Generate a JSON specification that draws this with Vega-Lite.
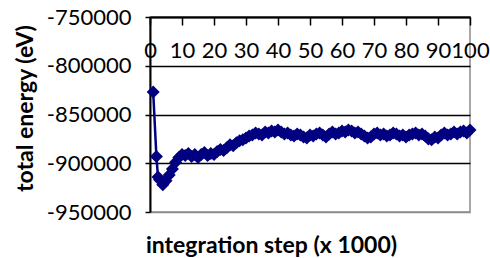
{
  "$schema": "https://vega.github.io/schema/vega-lite/v6.json",
  "width": 320,
  "height": 195,
  "autosize": "none",
  "padding": {"left": 150, "top": 17, "right": 20, "bottom": 46},
  "background": "white",
  "config": {
    "view": {"stroke": "#8c8c8c", "strokeWidth": 1.5},
    "axis": {
      "domainColor": "black",
      "domainWidth": 2,
      "tickColor": "black",
      "tickWidth": 1.5,
      "labelColor": "black",
      "labelFont": "Lato",
      "labelFontSize": 22,
      "titleFont": "Lato",
      "titleFontSize": 23,
      "titleFontWeight": "bold",
      "titleColor": "black"
    }
  },
  "data": {
    "values": [
      {"step": 1, "energy": -827000},
      {"step": 2, "energy": -893000},
      {"step": 2.5, "energy": -914000},
      {"step": 3, "energy": -917000},
      {"step": 4, "energy": -922000},
      {"step": 5, "energy": -918000},
      {"step": 6, "energy": -912000},
      {"step": 7, "energy": -906000},
      {"step": 8, "energy": -899000},
      {"step": 9, "energy": -894000},
      {"step": 10, "energy": -891000},
      {"step": 11, "energy": -892000},
      {"step": 12, "energy": -890000},
      {"step": 13, "energy": -893000},
      {"step": 14, "energy": -891000},
      {"step": 15, "energy": -894000},
      {"step": 16, "energy": -891000},
      {"step": 17, "energy": -889000},
      {"step": 18, "energy": -892000},
      {"step": 19, "energy": -890000},
      {"step": 20, "energy": -891000},
      {"step": 21, "energy": -888000},
      {"step": 22, "energy": -886000},
      {"step": 23, "energy": -887000},
      {"step": 24, "energy": -884000},
      {"step": 25, "energy": -881000},
      {"step": 26, "energy": -882000},
      {"step": 27, "energy": -879000},
      {"step": 28, "energy": -877000},
      {"step": 29, "energy": -876000},
      {"step": 30, "energy": -874000},
      {"step": 31, "energy": -872000},
      {"step": 32, "energy": -871000},
      {"step": 33, "energy": -869000},
      {"step": 34, "energy": -870000},
      {"step": 35, "energy": -871000},
      {"step": 36, "energy": -868000},
      {"step": 37, "energy": -869000},
      {"step": 38, "energy": -867000},
      {"step": 39, "energy": -868000},
      {"step": 40, "energy": -866000},
      {"step": 41, "energy": -868000},
      {"step": 42, "energy": -870000},
      {"step": 43, "energy": -869000},
      {"step": 44, "energy": -871000},
      {"step": 45, "energy": -872000},
      {"step": 46, "energy": -870000},
      {"step": 47, "energy": -871000},
      {"step": 48, "energy": -873000},
      {"step": 49, "energy": -874000},
      {"step": 50, "energy": -871000},
      {"step": 51, "energy": -872000},
      {"step": 52, "energy": -870000},
      {"step": 53, "energy": -869000},
      {"step": 54, "energy": -871000},
      {"step": 55, "energy": -873000},
      {"step": 56, "energy": -870000},
      {"step": 57, "energy": -868000},
      {"step": 58, "energy": -870000},
      {"step": 59, "energy": -869000},
      {"step": 60, "energy": -867000},
      {"step": 61, "energy": -868000},
      {"step": 62, "energy": -866000},
      {"step": 63, "energy": -867000},
      {"step": 64, "energy": -869000},
      {"step": 65, "energy": -868000},
      {"step": 66, "energy": -870000},
      {"step": 67, "energy": -872000},
      {"step": 68, "energy": -874000},
      {"step": 69, "energy": -873000},
      {"step": 70, "energy": -870000},
      {"step": 71, "energy": -869000},
      {"step": 72, "energy": -871000},
      {"step": 73, "energy": -870000},
      {"step": 74, "energy": -872000},
      {"step": 75, "energy": -871000},
      {"step": 76, "energy": -869000},
      {"step": 77, "energy": -870000},
      {"step": 78, "energy": -872000},
      {"step": 79, "energy": -871000},
      {"step": 80, "energy": -873000},
      {"step": 81, "energy": -871000},
      {"step": 82, "energy": -870000},
      {"step": 83, "energy": -869000},
      {"step": 84, "energy": -871000},
      {"step": 85, "energy": -870000},
      {"step": 86, "energy": -872000},
      {"step": 87, "energy": -875000},
      {"step": 88, "energy": -876000},
      {"step": 89, "energy": -873000},
      {"step": 90, "energy": -874000},
      {"step": 91, "energy": -871000},
      {"step": 92, "energy": -869000},
      {"step": 93, "energy": -871000},
      {"step": 94, "energy": -870000},
      {"step": 95, "energy": -868000},
      {"step": 96, "energy": -870000},
      {"step": 97, "energy": -868000},
      {"step": 98, "energy": -867000},
      {"step": 99, "energy": -869000},
      {"step": 100, "energy": -866000}
    ]
  },
  "mark": {
    "type": "line",
    "color": "#000080",
    "strokeWidth": 2.5,
    "point": {"shape": "diamond", "size": 170, "filled": true, "color": "#000080"}
  },
  "encoding": {
    "x": {
      "field": "step",
      "type": "quantitative",
      "scale": {"domain": [0, 100], "nice": false},
      "axis": {
        "orient": "bottom",
        "offset": -195,
        "values": [0, 10, 20, 30, 40, 50, 60, 70, 80, 90, 100],
        "grid": false,
        "tickSize": 8,
        "labelPadding": 15,
        "labelFlush": false,
        "labelOverlap": false,
        "title": "integration step (x 1000)",
        "titleX": 121,
        "titleY": 235,
        "titleBaseline": "alphabetic",
        "titleAlign": "center"
      }
    },
    "y": {
      "field": "energy",
      "type": "quantitative",
      "scale": {"domain": [-950000, -750000], "nice": false, "zero": false},
      "axis": {
        "values": [-950000, -900000, -850000, -800000, -750000],
        "labelExpr": "datum.value + ''",
        "grid": true,
        "gridColor": {"condition": {"test": "datum.value == -950000", "value": "#8c8c8c"}, "value": "black"},
        "gridWidth": 1.5,
        "tickSize": 5,
        "labelPadding": 14,
        "title": "total energy (eV)",
        "titleX": -125,
        "titleY": 91,
        "titleBaseline": "middle",
        "titleAlign": "center"
      }
    }
  }
}
